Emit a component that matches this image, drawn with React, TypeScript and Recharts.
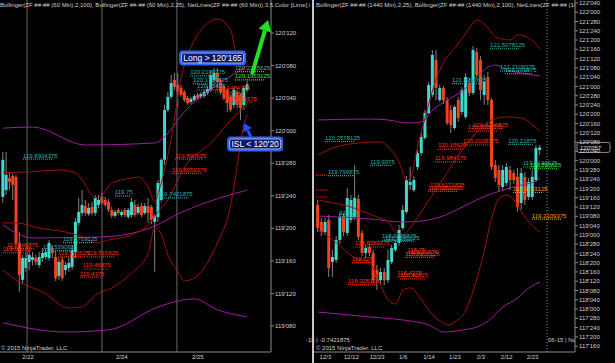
import React from 'react'
import { ComposedChart, Bar, Line, XAxis, YAxis, ReferenceLine, ReferenceDot } from 'recharts'

const CYAN = '#45d6cd'
const RED = '#f2431d'
const WICK = '#808080'
const PURPLE = '#a01ba0'
const BAND_RED = '#a11010'
const AXIS = '#8a8a8a'
const TXT = '#cfcfcf'
const T_CYAN = '#28b0ae'
const T_RED = '#ff3311'
const T_GREEN = '#2ee82e'
const T_ORANGE = '#ff9a00'
const T_PALE = '#7fa07f'

// ---- 60 min panel (left) ----
const leftOpen = [119.746, 119.772, 119.818, 119.826, 119.822, 119.569, 119.427, 119.473, 119.496, 119.504, 119.511, 119.484, 119.511, 119.515, 119.511, 119.550, 119.515, 119.442, 119.504, 119.465, 119.473, 119.477, 119.534, 119.646, 119.684, 119.711, 119.680, 119.707, 119.684, 119.715, 119.746, 119.734, 119.726, 119.696, 119.673, 119.696, 119.676, 119.696, 119.669, 119.676, 119.715, 119.684, 119.711, 119.684, 119.711, 119.707, 119.650, 119.669, 119.734, 119.888, 120.080, 120.130, 120.195, 120.176, 120.164, 120.149, 120.126, 120.110, 120.118, 120.137, 120.130, 120.133, 120.145, 120.156, 120.195, 120.222, 120.195, 120.168, 120.156, 120.130, 120.099, 120.149, 120.137, 120.099, 120.156]
const leftHigh = [119.918, 119.918, 119.842, 119.834, 119.830, 119.611, 119.523, 119.530, 119.542, 119.534, 119.523, 119.534, 119.550, 119.550, 119.580, 119.561, 119.542, 119.511, 119.515, 119.496, 119.511, 119.561, 119.665, 119.742, 119.772, 119.734, 119.722, 119.726, 119.753, 119.753, 119.761, 119.746, 119.738, 119.707, 119.696, 119.703, 119.696, 119.703, 119.703, 119.742, 119.734, 119.719, 119.722, 119.722, 119.742, 119.715, 119.680, 119.811, 119.895, 120.099, 120.149, 120.214, 120.222, 120.222, 120.176, 120.156, 120.133, 120.130, 120.141, 120.145, 120.149, 120.156, 120.172, 120.233, 120.241, 120.241, 120.202, 120.176, 120.164, 120.137, 120.164, 120.156, 120.145, 120.172, 120.191]
const leftLow = [119.722, 119.753, 119.772, 119.734, 119.561, 119.381, 119.415, 119.458, 119.465, 119.484, 119.484, 119.473, 119.496, 119.504, 119.500, 119.511, 119.423, 119.427, 119.423, 119.446, 119.458, 119.465, 119.511, 119.634, 119.673, 119.673, 119.673, 119.676, 119.673, 119.703, 119.715, 119.707, 119.688, 119.665, 119.665, 119.676, 119.669, 119.669, 119.661, 119.665, 119.669, 119.676, 119.669, 119.676, 119.646, 119.642, 119.458, 119.650, 119.726, 119.868, 120.072, 120.122, 120.156, 120.091, 120.130, 120.110, 120.099, 120.103, 120.110, 120.118, 120.122, 120.126, 120.137, 120.149, 120.183, 120.168, 120.137, 120.118, 120.072, 120.072, 120.087, 120.087, 120.041, 120.080, 120.149]
const leftClose = [119.888, 119.830, 119.803, 119.792, 119.569, 119.446, 119.511, 119.511, 119.523, 119.515, 119.496, 119.515, 119.530, 119.534, 119.569, 119.530, 119.434, 119.496, 119.434, 119.484, 119.492, 119.542, 119.650, 119.688, 119.715, 119.684, 119.703, 119.684, 119.742, 119.734, 119.722, 119.715, 119.696, 119.673, 119.688, 119.684, 119.688, 119.676, 119.696, 119.726, 119.676, 119.707, 119.676, 119.711, 119.684, 119.657, 119.673, 119.799, 119.888, 120.080, 120.130, 120.183, 120.168, 120.149, 120.137, 120.118, 120.106, 120.122, 120.133, 120.126, 120.141, 120.149, 120.160, 120.214, 120.222, 120.187, 120.149, 120.126, 120.106, 120.080, 120.156, 120.099, 120.087, 120.164, 120.178]

// Bollinger (2,100) purple, Bollinger (2,25) red : [bar, price]
const leftPurpleUpper: [number, number][] = [[0, 120.010], [9, 120.014], [25, 119.945], [46, 119.953], [47, 119.957], [50, 119.991], [53, 120.041], [56, 120.087], [60, 120.130], [65, 120.176], [70, 120.218], [74, 120.249]]
const leftPurpleMid: [number, number][] = [[0, 119.638], [9, 119.588], [30, 119.592], [46, 119.634], [53, 119.680], [62, 119.726], [74, 119.772]]
const leftPurpleLower: [number, number][] = [[0, 119.262], [19, 119.227], [32, 119.235], [47, 119.323], [53, 119.346], [58, 119.354], [65, 119.312], [74, 119.285]]
const leftRedUpper: [number, number][] = [[0, 119.838], [8, 119.842], [17, 119.849], [22, 119.838], [24, 119.811], [28, 119.742], [30, 119.753], [33, 119.799], [39, 119.818], [41, 119.822], [44, 119.784], [46, 119.726], [47, 119.761], [49, 119.849], [51, 119.972], [54, 120.206], [57, 120.322], [60, 120.387], [65, 120.429], [69, 120.387], [70, 120.329], [71, 120.264], [73, 120.214], [74, 120.195]]
const leftRedMid: [number, number][] = [[0, 119.646], [4, 119.646], [11, 119.626], [19, 119.611], [24, 119.592], [28, 119.569], [32, 119.580], [39, 119.600], [44, 119.638], [47, 119.688], [50, 119.734], [55, 119.861], [63, 119.953], [69, 120.041], [74, 120.099]]
const leftRedLower: [number, number][] = [[0, 119.465], [5, 119.419], [12, 119.381], [20, 119.319], [24, 119.323], [28, 119.369], [33, 119.396], [39, 119.454], [44, 119.530], [46, 119.626], [48, 119.600], [50, 119.523], [53, 119.458], [55, 119.423], [58, 119.434], [60, 119.458], [65, 119.569], [69, 119.715], [71, 119.868], [73, 120.022], [74, 120.060]]

const leftDateTicks = [7.6, 36, 59]
const leftDateLabels = ['2/22', '2/24', '2/25']
const leftSessionBreaks = [7.3, 30, 52.7]
const leftPriceTicks = [119.25, 119.375, 119.5, 119.625, 119.75, 119.875, 120, 120.125, 120.25, 120.375]

const leftTags = [
  { t: '119.8904375', x: 6.1, p: 119.8904375, c: T_CYAN },
  { t: '119.75', x: 33.9, p: 119.75, c: T_CYAN },
  { t: '119.7421875', x: 47, p: 119.7421875, c: T_CYAN },
  { t: '119.890625', x: 52.1, p: 119.890625, c: T_RED },
  { t: '119.8359375', x: 51.2, p: 119.8359375, c: T_RED },
  { t: '120.2109375', x: 56.7, p: 120.2109375, c: T_CYAN },
  { t: '120.1796875', x: 57.6, p: 120.1796875, c: T_CYAN },
  { t: '120.15625', x: 58.8, p: 120.15625, c: T_CYAN },
  { t: '120.2265625', x: 70.3, p: 120.2265625, c: T_PALE },
  { t: '120.1953125', x: 70.3, p: 120.1953125, c: T_GREEN },
  { t: '120.1484375', x: 64.2, p: 120.1484375, c: T_RED },
  { t: '120.125', x: 66.4, p: 120.125, c: T_RED },
  { t: '120.109375', x: 67.3, p: 120.109375, c: T_RED },
  { t: '119.546875', x: 1.2, p: 119.546875, c: T_RED },
  { t: '119.53125', x: 0, p: 119.53125, c: T_RED },
  { t: '119.5390625', x: 12.1, p: 119.5390625, c: T_CYAN },
  { t: '119.5703125', x: 18.2, p: 119.5703125, c: T_CYAN },
  { t: '119.515625', x: 16.7, p: 119.515625, c: T_RED },
  { t: '119.515625', x: 25.5, p: 119.515625, c: T_RED },
  { t: '119.46875', x: 24.2, p: 119.46875, c: T_RED },
  { t: '119.4375', x: 23.3, p: 119.4375, c: T_RED },
]

// ---- 1440 min panel (right) ----
const rightOpen = [119.402, 119.173, 119.038, 119.200, 118.634, 118.661, 118.931, 119.240, 119.025, 119.200, 119.240, 119.483, 119.025, 118.755, 118.836, 118.755, 118.526, 118.389, 118.499, 118.389, 118.634, 118.796, 118.890, 119.092, 119.308, 119.672, 119.604, 119.914, 120.103, 120.305, 120.642, 120.885, 121.356, 120.817, 120.979, 120.817, 120.683, 120.440, 120.817, 120.656, 120.588, 121.046, 120.912, 121.464, 121.356, 120.885, 121.127, 120.817, 119.941, 119.874, 119.645, 119.699, 119.874, 119.833, 119.780, 119.429, 119.780, 119.510, 119.510, 119.739, 120.143]
const rightHigh = [119.470, 119.227, 119.227, 119.267, 118.796, 118.984, 119.308, 119.294, 119.631, 119.537, 119.941, 119.537, 119.065, 118.863, 118.877, 118.796, 118.594, 118.553, 118.553, 118.796, 118.863, 118.931, 119.133, 119.402, 119.793, 119.914, 119.793, 120.143, 120.373, 120.683, 121.060, 121.491, 121.491, 121.019, 121.006, 120.858, 120.750, 120.750, 120.858, 120.993, 121.181, 121.114, 121.545, 121.518, 121.410, 121.154, 121.195, 120.844, 120.009, 119.941, 119.941, 119.968, 119.928, 119.874, 119.901, 119.901, 119.847, 119.766, 119.874, 120.211, 120.211]
const rightLow = [119.038, 118.984, 118.998, 118.432, 118.432, 118.621, 118.877, 118.984, 118.984, 119.160, 119.200, 118.931, 118.715, 118.688, 118.715, 118.351, 118.257, 118.324, 118.324, 118.351, 118.607, 118.769, 118.850, 119.065, 119.281, 119.604, 119.577, 119.874, 120.063, 120.278, 120.615, 120.858, 120.817, 120.790, 120.763, 120.480, 120.373, 120.413, 120.521, 120.615, 120.561, 120.871, 120.885, 121.114, 120.817, 120.750, 120.750, 119.874, 119.712, 119.577, 119.604, 119.658, 119.604, 119.685, 119.308, 119.335, 119.402, 119.470, 119.470, 119.712, 120.076]
const rightClose = [119.092, 119.038, 119.173, 118.553, 118.701, 118.931, 119.240, 119.038, 119.497, 119.470, 119.497, 118.971, 118.755, 118.823, 118.755, 118.389, 118.418, 118.499, 118.389, 118.661, 118.823, 118.890, 119.065, 119.335, 119.739, 119.712, 119.739, 120.103, 120.319, 120.642, 121.019, 121.424, 120.979, 120.979, 120.817, 120.507, 120.480, 120.723, 120.575, 120.952, 121.127, 120.912, 121.491, 121.154, 120.952, 121.060, 120.817, 119.914, 119.766, 119.672, 119.874, 119.914, 119.739, 119.739, 119.375, 119.833, 119.470, 119.712, 119.780, 120.170, 120.178]

const rightPurpleUpper: [number, number][] = [[0, 120.548], [14, 120.561], [19, 120.548], [24, 120.507], [28, 120.521], [31, 120.683], [35, 120.817], [39, 120.939], [43, 121.127], [46, 121.262], [48, 121.289], [51, 121.222], [55, 121.181], [60, 121.141]]
const rightPurpleMid: [number, number][] = [[0, 119.254], [14, 119.214], [23, 119.173], [28, 119.187], [33, 119.240], [39, 119.375], [44, 119.497], [50, 119.604], [55, 119.672], [59, 119.726], [60, 119.766]]
const rightPurpleLower: [number, number][] = [[0, 117.960], [14, 117.893], [23, 117.852], [30, 117.785], [34, 117.691], [39, 117.718], [43, 117.758], [46, 117.839], [50, 118.028], [54, 118.149], [57, 118.284], [60, 118.364]]
const rightRedUpper: [number, number][] = [[0, 120.076], [4, 120.170], [11, 120.238], [17, 120.251], [19, 120.184], [22, 119.968], [24, 119.739], [25, 119.766], [27, 120.211], [29, 120.588], [31, 120.952], [34, 121.329], [37, 121.518], [40, 121.720], [43, 121.895], [46, 121.788], [48, 121.666], [52, 121.626], [54, 121.693], [57, 121.653], [60, 121.505]]
const rightRedMid: [number, number][] = [[0, 119.470], [4, 119.429], [7, 119.402], [12, 119.321], [16, 119.240], [19, 119.173], [21, 119.038], [23, 118.998], [24, 119.038], [27, 119.240], [30, 119.470], [34, 119.766], [38, 120.076], [43, 120.386], [47, 120.548], [51, 120.588], [55, 120.575], [58, 120.480], [60, 120.399]]
const rightRedLower: [number, number][] = [[0, 119.065], [3, 118.971], [5, 118.890], [10, 118.688], [14, 118.621], [16, 118.432], [19, 118.122], [21, 118.068], [23, 118.257], [25, 118.284], [28, 118.122], [31, 117.920], [34, 117.812], [35, 117.785], [37, 117.825], [40, 117.987], [42, 118.257], [45, 118.796], [47, 119.240], [49, 119.497], [51, 119.537], [53, 119.470], [55, 119.308], [58, 119.119], [60, 119.038]]

const rightDateTicks = [2, 9, 16, 23, 30, 37, 44, 51, 58]
const rightDateLabels = ['12/3', '12/12', '12/23', '1/6', '1/14', '1/23', '2/3', '2/12', '2/23']
const rightPriceTicks = [117.5, 117.625, 117.75, 117.875, 118, 118.125, 118.25, 118.375, 118.5, 118.625, 118.75, 118.875, 119, 119.125, 119.25, 119.375, 119.5, 119.625, 119.75, 119.875, 120, 120.125, 120.25, 120.375, 120.5, 120.625, 120.75, 120.875, 121, 121.125, 121.25, 121.375, 121.5, 121.625, 121.75, 121.875, 122, 122.125]

const rightTags = [
  { t: '121.5078125', x: 46.5, p: 121.5078125, c: T_CYAN },
  { t: '121.2109375', x: 49.2, p: 121.2109375, c: T_CYAN },
  { t: '121.171875', x: 50.5, p: 121.171875, c: T_CYAN },
  { t: '121.0390625', x: 36.2, p: 121.0390625, c: T_CYAN },
  { t: '120.4296875', x: 41.9, p: 120.4296875, c: T_RED },
  { t: '120.3984375', x: 40.5, p: 120.3984375, c: T_RED },
  { t: '120.15625', x: 32.4, p: 120.15625, c: T_RED },
  { t: '120.2109375', x: 39.2, p: 120.2109375, c: T_RED },
  { t: '119.984375', x: 31.6, p: 119.984375, c: T_RED },
  { t: '120.21875', x: 51.4, p: 120.21875, c: T_CYAN },
  { t: '119.9140625', x: 55.4, p: 119.9140625, c: T_CYAN },
  { t: '119.890625', x: 57.3, p: 119.890625, c: T_GREEN },
  { t: '119.6171875', x: 30.3, p: 119.6171875, c: T_RED },
  { t: '119.5859375', x: 29.7, p: 119.5859375, c: T_RED },
  { t: '119.5703125', x: 52.7, p: 119.5703125, c: T_ORANGE },
  { t: '119.2109375', x: 57.8, p: 119.2109375, c: T_ORANGE },
  { t: '120.2578125', x: 1.9, p: 120.2578125, c: T_CYAN },
  { t: '119.9375', x: 14.1, p: 119.9375, c: T_CYAN },
  { t: '119.796875', x: 2.7, p: 119.796875, c: T_CYAN },
  { t: '', x: -0.5, p: 119.806, c: T_RED },
  { t: '', x: -0.5, p: 119.604, c: T_RED },
  { t: '', x: -0.5, p: 119.51, c: T_RED },
  { t: '119.25', x: 5.9, p: 119.25, c: T_CYAN },
  { t: '118.8359375', x: 10, p: 118.8359375, c: T_RED },
  { t: '118.9296875', x: 17.3, p: 118.9296875, c: T_CYAN },
  { t: '118.9140625', x: 18.1, p: 118.9140625, c: T_CYAN },
  { t: '118.625', x: 9.2, p: 118.625, c: T_RED },
  { t: '118.75', x: 24.1, p: 118.75, c: T_RED },
  { t: '118.71875', x: 24.9, p: 118.71875, c: T_RED },
  { t: '118.6953125', x: 23.5, p: 118.6953125, c: T_RED },
  { t: '118.328125', x: 8.1, p: 118.328125, c: T_RED },
  { t: '118.4375', x: 21.4, p: 118.4375, c: T_RED },
  { t: '118.40625', x: 22.2, p: 118.40625, c: T_RED },
]

const fmt32 = (v: number) => {
  const whole = Math.floor(v + 1e-9)
  const t = Math.round((v - whole) * 320)
  return `${whole}'${String(t).padStart(3, '0')}`
}

type Pt = [number, number][]
const buildRows = (o: number[], h: number[], l: number[], c: number[], bands: Record<string, Pt>) =>
  o.map((_, i) => {
    const row: any = { i, o: o[i], h: h[i], l: l[i], c: c[i] }
    for (const k of Object.keys(bands)) {
      const hit = bands[k].find((p) => p[0] === i)
      if (hit) row[k] = hit[1]
    }
    return row
  })

const leftRows = buildRows(leftOpen, leftHigh, leftLow, leftClose, {
  pu: leftPurpleUpper, pm: leftPurpleMid, pl: leftPurpleLower,
  ru: leftRedUpper, rm: leftRedMid, rl: leftRedLower,
})
const rightRows = buildRows(rightOpen, rightHigh, rightLow, rightClose, {
  pu: rightPurpleUpper, pm: rightPurpleMid, pl: rightPurpleLower,
  ru: rightRedUpper, rm: rightRedMid, rl: rightRedLower,
})

const Candle = (props: any) => {
  const { x, y, width, height, payload } = props
  if (x == null || !payload) return null
  const top = Math.min(y, y + height)
  const bot = Math.max(y, y + height)
  const span = payload.h - payload.l || 1
  const py = (v: number) => top + ((payload.h - v) / span) * (bot - top)
  const yo = py(payload.o)
  const yc = py(payload.c)
  const up = payload.c >= payload.o
  const cx = x + width / 2
  return (
    <g>
      <line x1={cx} x2={cx} y1={top} y2={bot} stroke={WICK} strokeWidth={1} />
      <rect x={x} y={Math.min(yo, yc)} width={width} height={Math.max(1, Math.abs(yo - yc))} fill={up ? CYAN : RED} />
    </g>
  )
}

const LevelTag = ({ cx, cy, text, color }: any) => {
  const w = text ? text.length * 2.75 : 12
  return (
    <g>
      <line x1={cx} x2={cx + w} y1={cy} y2={cy} stroke={color} strokeDasharray="1 1" strokeWidth={1.2} />
      {text ? (
        <text x={cx} y={cy - 1.6} fill={color} fontSize={6}>{text}</text>
      ) : null}
    </g>
  )
}

const Callout = ({ cx, cy, text, w }: any) => (
  <g>
    <rect x={cx - w / 2} y={cy - 6.5} width={w} height={13} rx={3} fill="#0d1870" stroke="#2a63ff" strokeWidth={2} />
    <rect x={cx - w / 2 + 1.5} y={cy - 5} width={w - 3} height={10} rx={2} fill="none" stroke="#ffffff" strokeWidth={0.7} />
    <text x={cx} y={cy + 3} fill="#ffffff" fontSize={8.5} textAnchor="middle">{text}</text>
  </g>
)

const Arrow = ({ cx, cy, dx, dy, color, w, head }: any) => {
  const len = Math.hypot(dx, dy)
  const ux = -dx / len
  const uy = -dy / len
  const bx = cx - ux * head
  const by = cy - uy * head
  const px = -uy * head * 0.6
  const pyy = ux * head * 0.6
  return (
    <g>
      <line x1={cx + dx} y1={cy + dy} x2={bx} y2={by} stroke={color} strokeWidth={w} />
      <polygon points={`${cx},${cy} ${bx + px},${by + pyy} ${bx - px},${by - pyy}`} fill={color} />
    </g>
  )
}

const PriceBox = (props: any) => {
  const vb = props.viewBox || {}
  const x = vb.x + vb.width + 2
  const y = vb.y
  return (
    <g>
      <rect x={x} y={y - 5} width={33} height={10} rx={2} fill="#000" stroke="#b0b0b0" strokeWidth={0.8} />
      <text x={x + 3} y={y + 2.2} fill="#e0e0e0" fontSize={6}>{fmt32(rightClose[rightClose.length - 1])}</text>
    </g>
  )
}

const bands = (
  [
    ['pu', PURPLE], ['pm', PURPLE], ['pl', PURPLE],
    ['ru', BAND_RED], ['rm', BAND_RED], ['rl', BAND_RED],
  ] as [string, string][]
).map(([k, col]) => (
  <Line key={k} dataKey={k} type="monotone" stroke={col} strokeWidth={1} dot={false} activeDot={false} connectNulls isAnimationActive={false} />
))

const tagDots = (tags: any[]) =>
  tags.map((tg, n) => (
    <ReferenceDot key={'t' + n} x={tg.x} y={tg.p} r={0}
      shape={(p: any) => <LevelTag cx={p.cx} cy={p.cy} text={tg.t} color={tg.c} />} />
  ))

const small = { fontSize: 6, color: TXT, position: 'absolute' as const, whiteSpace: 'nowrap' as const, lineHeight: '7px' }

export default function App() {
  return (
    <div style={{ position: 'absolute', left: 0, top: 0, width: 615, height: 363, background: '#000', overflow: 'hidden', fontFamily: '"Liberation Sans", Arial, sans-serif' }}>
      <div style={{ position: 'absolute', left: 0, top: 0 }}>
        <ComposedChart width={310} height={363} data={leftRows} margin={{ top: 0, right: 0, bottom: 0, left: 0 }}>
          <XAxis dataKey="i" type="number" domain={[-0.9, 81.2]} allowDataOverflow ticks={leftDateTicks} interval={0}
            tickFormatter={(v: number) => leftDateLabels[leftDateTicks.indexOf(v)] ?? ''}
            height={11} axisLine={{ stroke: AXIS }} tickLine={false} tickSize={2} tickMargin={1} tick={{ fill: TXT, fontSize: 6 }} />
          <YAxis orientation="right" type="number" domain={[119.15, 120.502]} allowDataOverflow ticks={leftPriceTicks} interval={0}
            width={39} tickFormatter={fmt32} axisLine={{ stroke: AXIS }} tickLine={{ stroke: AXIS }} tickSize={3} tickMargin={1}
            tick={{ fill: TXT, fontSize: 6 }} />
          {leftSessionBreaks.map((b) => <ReferenceLine key={b} x={b} stroke="#6b6b6b" strokeWidth={1} />)}
          {bands}
          <Bar dataKey={(d: any) => [d.l, d.h]} barSize={3} shape={(p: any) => <Candle {...p} />} isAnimationActive={false} />
          {tagDots(leftTags)}
          <ReferenceDot x={80.3} y={120.425} r={0} shape={(p: any) => <Arrow cx={p.cx} cy={p.cy} dx={-16} dy={54} color="#22e022" w={4} head={11} />} />
          <ReferenceDot x={73} y={120.03} r={0} shape={(p: any) => <Arrow cx={p.cx} cy={p.cy} dx={7} dy={14} color="#1f4dff" w={3} head={8} />} />
          <ReferenceDot x={63.5} y={120.279} r={0} shape={(p: any) => <Callout cx={p.cx} cy={p.cy} text="Long > 120'165" w={65} />} />
          <ReferenceDot x={76.4} y={119.949} r={0} shape={(p: any) => <Callout cx={p.cx} cy={p.cy} text="ISL < 120'20" w={54} />} />
        </ComposedChart>
      </div>
      <div style={{ position: 'absolute', left: 305, top: 0 }}>
        <ComposedChart width={310} height={363} data={rightRows} margin={{ top: 0, right: 0, bottom: 0, left: 8 }}>
          <XAxis dataKey="i" type="number" domain={[-1.35, 69.46]} allowDataOverflow ticks={rightDateTicks} interval={0}
            tickFormatter={(v: number) => rightDateLabels[rightDateTicks.indexOf(v)] ?? ''}
            height={11} axisLine={{ stroke: AXIS }} tickLine={false} tickSize={2} tickMargin={1} tick={{ fill: TXT, fontSize: 6 }} />
          <YAxis orientation="right" type="number" domain={[117.421, 122.165]} allowDataOverflow ticks={rightPriceTicks} interval={0}
            width={40} tickFormatter={fmt32} axisLine={{ stroke: AXIS }} tickLine={{ stroke: AXIS }} tickSize={3} tickMargin={1}
            tick={{ fill: TXT, fontSize: 6 }} />
          <ReferenceLine x={61.9} stroke="#9a9a9a" strokeDasharray="1 2" />
          {bands}
          <Bar dataKey={(d: any) => [d.l, d.h]} barSize={3} shape={(p: any) => <Candle {...p} />} isAnimationActive={false} />
          {tagDots(rightTags)}
          <ReferenceLine y={rightClose[rightClose.length - 1]} stroke="none" label={(p: any) => <PriceBox {...p} />} />
        </ComposedChart>
      </div>
      <div style={{ position: 'absolute', left: 312, top: 0, width: 1.5, height: 363, background: '#c8c8c8' }} />
      <div style={{ ...small, left: 0, top: 2, width: 310, overflow: 'hidden' }}>
        Bollinger(ZF ##-## (60 Min),2,100), Bollinger(ZF ##-## (60 Min),2,25), NetLines(ZF ##-## (60 Min)),3,5,Color [Lime],Color [Red]
      </div>
      <div style={{ ...small, left: 316, top: 2, width: 259, overflow: 'hidden' }}>
        Bollinger(ZF ##-## (1440 Min),2,25), Bollinger(ZF ##-## (1440 Min),2,100), NetLines(ZF ##-## (1440 Min)),3,5,Color [Lime]
      </div>
      <div style={{ ...small, left: 1, top: 345 }}>© 2015 NinjaTrader, LLC</div>
      <div style={{ ...small, left: 316, top: 345 }}>© 2015 NinjaTrader, LLC</div>
      <div style={{ ...small, left: 306, top: 337 }}>-15 | -0.7421875</div>
      <div style={{ ...small, left: 548, top: 337, width: 27, overflow: 'hidden' }}>06-15 | None</div>
    </div>
  )
}
